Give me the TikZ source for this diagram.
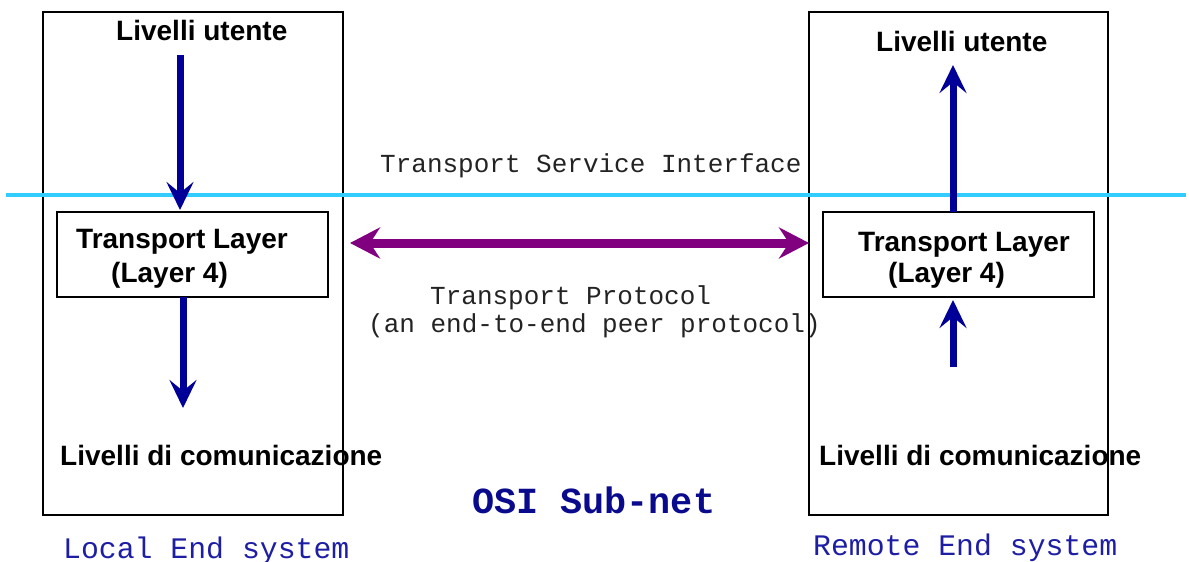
\documentclass[tikz,border=0pt]{standalone}
\usepackage{fontspec}
\setmainfont{Liberation Sans}
\newfontfamily\monofont{Liberation Mono}
\usetikzlibrary{arrows.meta}
\definecolor{flowblue}{RGB}{0,0,153}
\definecolor{peerpurple}{RGB}{128,0,128}
\definecolor{ifcyan}{RGB}{51,204,255}
\definecolor{netnavy}{RGB}{10,10,140}
\definecolor{sysblue}{RGB}{30,30,165}
\definecolor{labelgray}{RGB}{35,35,35}
\tikzset{
  frame/.style={draw=black, line width=1.5pt, inner sep=0pt, outer sep=0pt, anchor=north west},
  layerlbl/.style={font=\bfseries\fontsize{28}{30}\selectfont, inner sep=0pt, anchor=base west},
  monolbl/.style={font=\monofont\fontsize{26}{28}\selectfont, text=labelgray, inner sep=0pt, anchor=base west},
  syslbl/.style={font=\monofont\fontsize{29.8}{32}\selectfont, text=sysblue, inner sep=0pt, anchor=base west},
  downflow/.style={draw=flowblue, line width=7pt, -{Stealth[length=28pt, width=27pt, inset=11pt]}},
  peerflow/.style={draw=peerpurple, line width=9pt, {Stealth[length=30pt, width=31pt, inset=10pt]}-{Stealth[length=30pt, width=31pt, inset=10pt]}}
}
\begin{document}
\begin{tikzpicture}[x=1pt, y=-1pt]
\useasboundingbox (0,0) rectangle (1189,562);

% end systems
\node[frame, minimum width=300pt, minimum height=503pt] (local) at (43,12) {};
\node[frame, minimum width=299pt, minimum height=503pt] (remote) at (809,12) {};

% transport layer boxes
\node[frame, minimum width=271pt, minimum height=85pt] (ltl) at (57,212) {};
\node[frame, minimum width=271pt, minimum height=85pt] (rtl) at (823,212) {};

% service interface line
\coordinate (ifl) at (6,195);
\coordinate (ifr) at (1186,195);
\draw[ifcyan, line width=3.5pt] (ifl) -- (ifr);
\node[monolbl] (tsi) at (380,172) {Transport Service Interface};

% user levels
\node[layerlbl] (lut) at (116,40) {Livelli utente};
\node[layerlbl] (rut) at (876,51) {Livelli utente};

% transport layer labels
\node[layerlbl] (ltl1) at (76,248) {Transport Layer};
\node[layerlbl] (ltl2) at (111,282) {(Layer 4)};
\node[layerlbl] (rtl1) at (858,251) {Transport Layer};
\node[layerlbl] (rtl2) at (888,282) {(Layer 4)};

% communication levels
\node[layerlbl] (lcom) at (60,465) {Livelli di comunicazione};
\node[layerlbl] (rcom) at (819,465) {Livelli di comunicazione};

% vertical flows
\coordinate (la0) at (180,55);
\coordinate (la1) at (180,210);
\draw[downflow] (la0) -- (la1);
\coordinate (lb1) at (183,408);
\draw[downflow] (ltl.south -| lb1) -- (lb1);
\coordinate (ra1) at (953,65);
\draw[downflow] (rtl.north -| ra1) -- (ra1);
\coordinate (rb0) at (953,367);
\coordinate (rb1) at (953,300);
\draw[downflow] (rb0) -- (rb1);

% peer protocol
\coordinate (pl) at (350,243);
\draw[peerflow] (pl) -- (pl -| remote.west);
\node[monolbl] (tp1) at (430,304) {Transport Protocol};
\node[monolbl] (tp2) at (368,332) {(an end-to-end peer protocol)};

% subnet and system labels
\node[font=\monofont\bfseries\fontsize{36.8}{38}\selectfont, text=netnavy, inner sep=0pt, anchor=base west] (osi) at (472,513) {OSI Sub-net};
\node[syslbl] (lsys) at (63,558) {Local End system};
\node[syslbl] (rsys) at (813,555) {Remote End system};
\end{tikzpicture}
\end{document}
